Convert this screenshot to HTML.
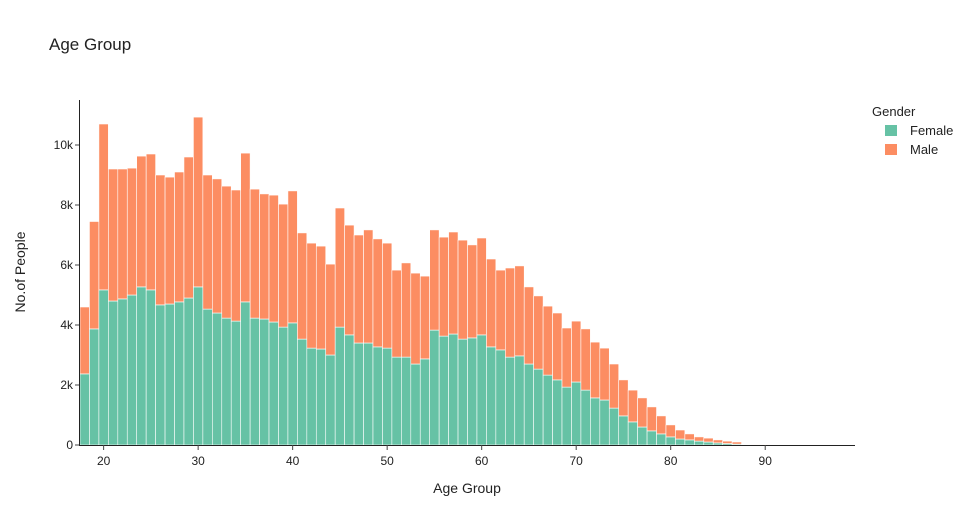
<!DOCTYPE html>
<html><head><meta charset="utf-8"><style>
body{margin:0;background:#fff;font-family:"Liberation Sans",sans-serif;}
svg text{font-family:"Liberation Sans",sans-serif;fill:#2a3f5f;}
</style></head><body>
<svg id="chart" width="971" height="525" xmlns="http://www.w3.org/2000/svg">
<text x="49" y="50" font-size="17" style="fill:#222">Age Group</text>
<g id="bars"></g>
<g id="axes"></g>
<text x="467" y="493" font-size="14" text-anchor="middle" style="fill:#222">Age Group</text>
<text transform="translate(25,272) rotate(-90)" font-size="14" text-anchor="middle" style="fill:#222">No.of People</text>
<g>
<text x="872" y="116" font-size="13" style="fill:#222">Gender</text>
<g><rect x="885" y="125" width="12" height="11" fill="#66c2a5"/><text x="910" y="135" font-size="13" style="fill:#222">Female</text></g>
<g><rect x="885" y="144" width="12" height="11" fill="#fc8d62"/><text x="910" y="154" font-size="13" style="fill:#222">Male</text></g>
</g>
</svg>
<script>
const ages = [];
for (let a = 18; a <= 97; a++) ages.push(a);
const female = [2.37,3.87,5.17,4.8,4.87,5.0,5.27,5.17,4.67,4.7,4.77,4.9,5.27,4.53,4.4,4.23,4.13,4.77,4.23,4.2,4.1,3.93,4.07,3.53,3.23,3.2,3.0,3.93,3.67,3.4,3.4,3.27,3.23,2.93,2.93,2.7,2.87,3.83,3.63,3.7,3.53,3.57,3.67,3.27,3.17,2.93,2.97,2.7,2.53,2.33,2.17,1.93,2.1,1.83,1.57,1.5,1.23,0.97,0.77,0.6,0.47,0.37,0.27,0.2,0.17,0.13,0.1,0.07,0.05,0.03,0.02,0.01,0.01,0.005,0.005,0.003,0.003,0.002,0.002,0.001];
const total = [4.6,7.45,10.7,9.2,9.2,9.23,9.63,9.7,9.0,8.93,9.1,9.6,10.93,9.0,8.87,8.63,8.5,9.73,8.53,8.37,8.33,8.03,8.47,7.07,6.73,6.63,6.03,7.9,7.33,7.0,7.17,6.87,6.73,5.83,6.07,5.73,5.63,7.17,6.93,7.1,6.83,6.67,6.9,6.2,5.83,5.9,5.97,5.27,4.97,4.63,4.4,3.9,4.13,3.87,3.43,3.23,2.7,2.17,1.83,1.57,1.27,0.97,0.67,0.5,0.37,0.27,0.23,0.17,0.13,0.1,0.04,0.02,0.02,0.01,0.01,0.006,0.005,0.004,0.003,0.002];
const male = total.map((t,i)=>Math.max(0,t-female[i]));
const yTicks = [0,2,4,6,8,10];
const yTickLabels = ["0","2k","4k","6k","8k","10k"];
const xTicks = [20,30,40,50,60,70,80,90];

const X0 = 80, X1 = 855, Y0 = 445;
const xMin = 17.5, xMax = 99.5;
const x = v => X0 + (v - xMin) / (xMax - xMin) * (X1 - X0);
const y = v => Y0 - v * 30;
const NS = "http://www.w3.org/2000/svg";
const mk = (t, attrs, parent) => { const e = document.createElementNS(NS, t); for (const k in attrs) e.setAttribute(k, attrs[k]); parent.appendChild(e); return e; };
const bars = document.getElementById('bars'), axes = document.getElementById('axes');
const bw = x(1) - x(0);
ages.forEach((a, i) => {
  const left = x(a - 0.5);
  const f = mk('rect', {x: left, y: y(female[i]), width: bw, height: Y0 - y(female[i]), fill: '#66c2a5', stroke: '#fff', 'stroke-width': 0.6}, bars);
  
  
  const m = mk('rect', {x: left, y: y(female[i] + male[i]), width: bw, height: y(female[i]) - y(female[i] + male[i]), fill: '#fc8d62', stroke: '#fff', 'stroke-width': 0.6}, bars);
  
  
});
const xl = mk('line', {x1: X0 - 1, x2: X1, y1: Y0 + 0.5, y2: Y0 + 0.5, stroke: '#222', 'stroke-width': 1}, axes);


const yl = mk('line', {x1: X0 - 0.5, x2: X0 - 0.5, y1: 100, y2: Y0 + 1, stroke: '#222', 'stroke-width': 1}, axes);


yTicks.forEach((v, i) => {
  mk('line', {x1: X0 - 5, x2: X0 - 1, y1: y(v), y2: y(v), stroke: '#444'}, axes);
  const t = mk('text', {x: X0 - 7, y: y(v) + 4, 'font-size': 12, 'text-anchor': 'end', style: 'fill:#222'}, axes);
  t.textContent = yTickLabels[i];
  
  
});
xTicks.forEach(v => {
  mk('line', {x1: x(v), x2: x(v), y1: Y0, y2: Y0 + 5, stroke: '#444'}, axes);
  const t = mk('text', {x: x(v), y: Y0 + 20, 'font-size': 12, 'text-anchor': 'middle', style: 'fill:#222'}, axes);
  t.textContent = v;
  
  
});
</script>
</body></html>
